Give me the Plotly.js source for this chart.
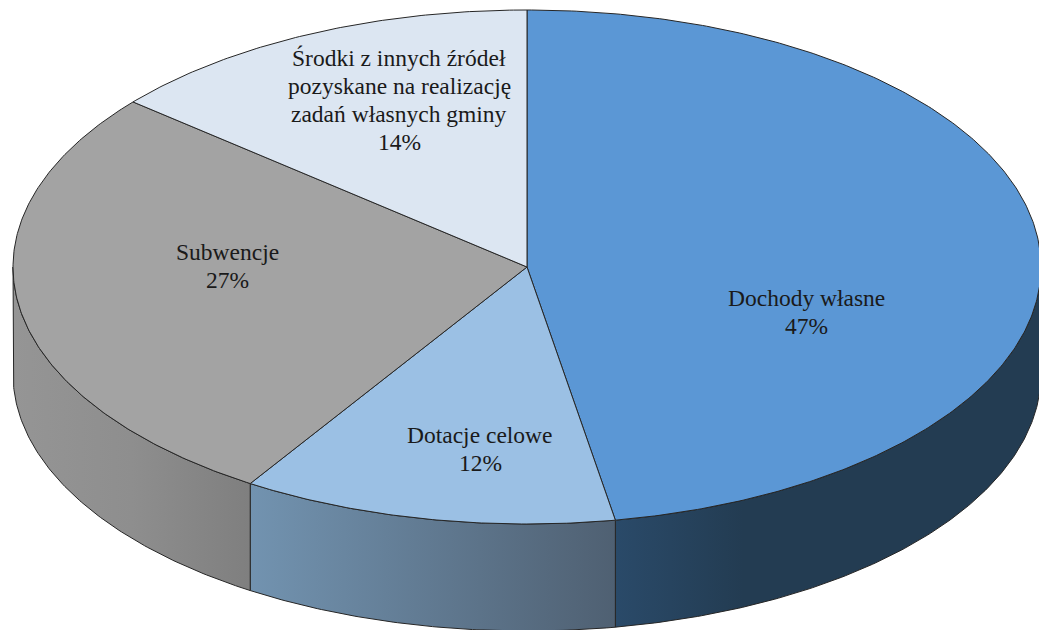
<!DOCTYPE html>
<html>
<head>
<meta charset="utf-8">
<script src="https://cdn.plot.ly/plotly-3.0.1.min.js"></script>
<style>html,body{margin:0;padding:0;background:#fff;overflow:hidden}#chart{width:1039px;height:630px}</style>
</head>
<body>
<div id="chart"></div>
<script>
// Data
const categories = ["Dochody własne", "Dotacje celowe", "Subwencje", "Środki z innych źródeł pozyskane na realizację zadań własnych gminy"];
const values = [47.25, 11.8, 27.05, 13.9];
const labelLines = [
  ["Dochody własne"],
  ["Dotacje celowe"],
  ["Subwencje"],
  ["Środki z innych źródeł", "pozyskane na realizację", "zadań własnych gminy"]
];
const topColors = ["#5b97d5", "#9bc0e4", "#a3a3a3", "#dce6f2"];
// Side wall colours, left to right
const sideColors = [
  [[0, "#2a4a69"], [0.3, "#233c52"], [1, "#233c52"]],
  [[0, "#7293b0"], [1, "#4f6072"]],
  [[0, "#959595"], [0.5, "#8e8e8e"], [1, "#7f7f7f"]],
  [[0, "#b0b8c0"], [1, "#b0b8c0"]]
];
// Pixel centre of the first text line of each label
const labelAnchors = [[806, 298], [480, 435], [227, 252], [399, 58]];

// Projection of the pie disc onto the page
const W = 1039, H = 630, CX = 527, CY = 267, RX = 514, RY = 257, DEPTH = 107 / 257;
const LINE = "#262626", FONT = "Liberation Serif, Times New Roman, serif", FS = 23.5, LH = 28;
const px = v => (v - CX) / RX, py = v => (CY - v) / RY;

function arc(a0, a1, drop) {
  const xs = [], ys = [], n = Math.max(2, Math.ceil(Math.abs(a1 - a0) * 2));
  for (let i = 0; i <= n; i++) {
    const t = (a0 + (a1 - a0) * i / n) * Math.PI / 180;
    xs.push(Math.sin(t)); ys.push(Math.cos(t) - drop);
  }
  return [xs, ys];
}

const total = values.reduce((s, v) => s + v, 0);
let running = 0;
const slices = values.map(v => { const a0 = running / total * 360; running += v; return [a0, running / total * 360]; });

const traces = [];
slices.forEach(([a0, a1], i) => {
  const s = Math.max(a0, 90), e = Math.min(a1, 270);
  if (e <= s) return;
  const [tx, ty] = arc(s, e, 0), [bx, by] = arc(e, s, DEPTH);
  traces.push({
    type: "scatter", mode: "lines", name: categories[i] + " (bok)", showlegend: false, hoverinfo: "skip",
    x: tx.concat(bx, [tx[0]]), y: ty.concat(by, [ty[0]]),
    fill: "toself",
    fillgradient: { type: "horizontal", colorscale: sideColors[i] },
    line: { color: LINE, width: 1 }
  });
});
slices.forEach(([a0, a1], i) => {
  const [ax, ay] = arc(a0, a1, 0);
  traces.push({
    type: "scatter", mode: "lines", name: categories[i], showlegend: false,
    x: [0].concat(ax, [0]), y: [0].concat(ay, [0]),
    fill: "toself", fillcolor: topColors[i],
    line: { color: LINE, width: 1 },
    hoverinfo: "text", text: categories[i] + " " + Math.round(values[i]) + "%"
  });
});

const annotations = [];
labelLines.forEach((lines, i) => {
  const [lx, ly] = labelAnchors[i];
  lines.concat([Math.round(values[i]) + "%"]).forEach((txt, k) => {
    annotations.push({
      x: px(lx), y: py(ly + k * LH), xref: "x", yref: "y", text: txt, showarrow: false,
      xanchor: "center", yanchor: "middle",
      font: { family: FONT, size: FS, color: "#1a1a1a" }
    });
  });
});

const hiddenAxis = { visible: false, showgrid: false, zeroline: false, fixedrange: true };
const layout = {
  width: W, height: H, showlegend: false,
  margin: { l: 0, r: 0, t: 0, b: 0 },
  paper_bgcolor: "#ffffff", plot_bgcolor: "#ffffff",
  xaxis: Object.assign({ range: [px(0), px(W)] }, hiddenAxis),
  yaxis: Object.assign({ range: [py(H), py(0)] }, hiddenAxis),
  annotations
};
Plotly.newPlot("chart", traces, layout, { displayModeBar: false, responsive: false });
</script>
</body>
</html>
